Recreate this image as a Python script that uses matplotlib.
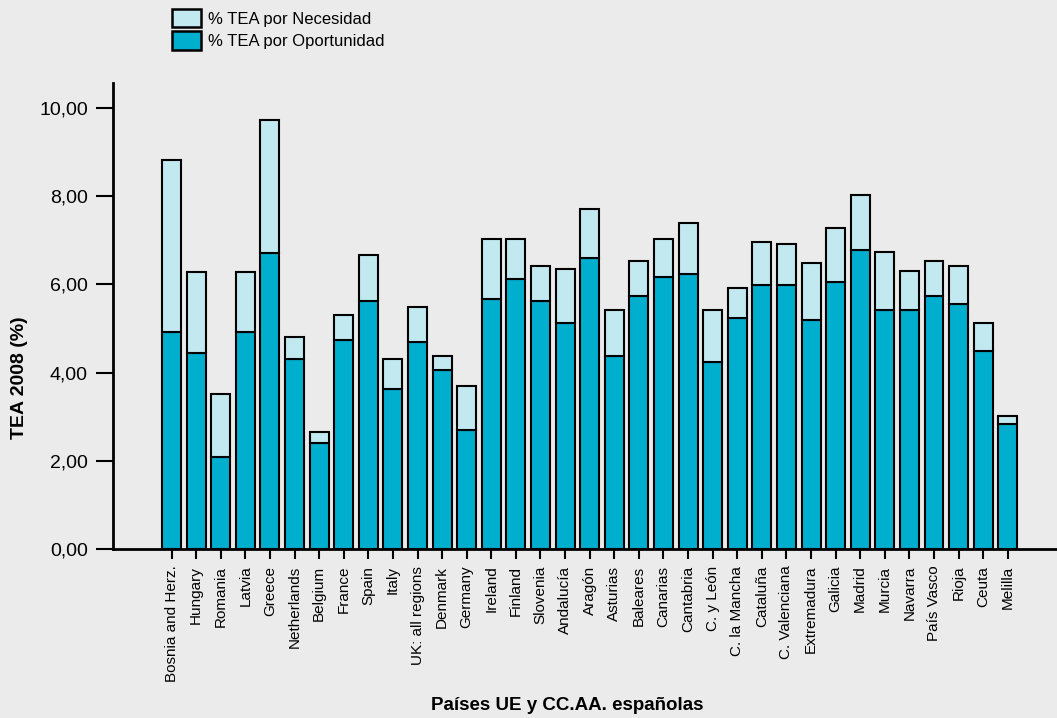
import matplotlib
matplotlib.use('Agg')
import matplotlib.pyplot as plt
import numpy as np
from matplotlib.patches import Patch

plt.rcParams['font.family'] = ['Liberation Sans Narrow', 'Liberation Sans', 'DejaVu Sans']

# ==== datos ====
paises = ['Bosnia and Herz.', 'Hungary', 'Romania', 'Latvia', 'Greece', 'Netherlands',
          'Belgium', 'France', 'Spain', 'Italy', 'UK: all regions', 'Denmark', 'Germany',
          'Ireland', 'Finland', 'Slovenia', 'Andalucía', 'Aragón', 'Asturias', 'Baleares',
          'Canarias', 'Cantabria', 'C. y León', 'C. la Mancha', 'Cataluña', 'C. Valenciana',
          'Extremadura', 'Galicia', 'Madrid', 'Murcia', 'Navarra', 'País Vasco', 'Rioja',
          'Ceuta', 'Melilla']
oportunidad = [4.93, 4.44, 2.09, 4.93, 6.72, 4.32, 2.40, 4.75, 5.62, 3.64, 4.69, 4.07, 2.71,
               5.68, 6.12, 5.62, 5.12, 6.60, 4.38, 5.74, 6.17, 6.23, 4.25, 5.24, 5.98, 5.98,
               5.19, 6.05, 6.79, 5.43, 5.43, 5.73, 5.55, 4.50, 2.83]
total_tea = [8.82, 6.29, 3.51, 6.29, 9.74, 4.81, 2.65, 5.30, 6.67, 4.32, 5.49, 4.38, 3.70,
             7.03, 7.03, 6.41, 6.35, 7.71, 5.43, 6.54, 7.03, 7.40, 5.43, 5.92, 6.97, 6.91,
             6.48, 7.28, 8.02, 6.73, 6.30, 6.54, 6.42, 5.12, 3.02]
necesidad = [t - o for t, o in zip(total_tea, oportunidad)]
yticks = [0, 2, 4, 6, 8, 10]

c_op = '#00AECE'
c_nec = '#C2E8F0'
bg = '#EBEBEB'

fig = plt.figure(figsize=(10.57, 7.18), dpi=100, facecolor=bg)
ax = fig.add_axes([113 / 1057, 169 / 718, 944 / 1057, 466 / 718], facecolor=bg)

x = np.arange(len(paises))
w = 0.77
ax.bar(x, oportunidad, width=w, color=c_op, edgecolor='black', linewidth=1.5, zorder=2)
ax.bar(x, necesidad, width=w, bottom=oportunidad, color=c_nec, edgecolor='black',
       linewidth=1.5, zorder=2)

ax.set_xlim(-2.38, 36.0)
ax.set_ylim(0, 10.57)
ax.set_yticks(yticks)
ax.set_yticklabels([('%.2f' % v).replace('.', ',') for v in yticks])
ax.set_xticks(x)
ax.set_xticklabels(paises, rotation=90, fontsize=11)

for s in ['top', 'right']:
    ax.spines[s].set_visible(False)
for s in ['left', 'bottom']:
    ax.spines[s].set_linewidth(2)
ax.tick_params(axis='y', length=12, width=1.5, labelsize=14, pad=6)
ax.tick_params(axis='x', length=7, width=1.5, pad=5)

fig.text(20 / 1057, 1 - 378 / 718, 'TEA 2008 (%)', fontsize=14, fontweight='bold',
         rotation=90, ha='center', va='center')
fig.text(567 / 1057, 1 - 705 / 718, 'Países UE y CC.AA. españolas', fontsize=13.5,
         fontweight='bold', ha='center', va='center')

handles = [Patch(facecolor=c_nec, edgecolor='black', linewidth=1.8, label='% TEA por Necesidad'),
           Patch(facecolor=c_op, edgecolor='black', linewidth=1.8, label='% TEA por Oportunidad')]
fig.legend(handles=handles, loc='upper left', bbox_to_anchor=(172 / 1057, 1 - 9 / 718),
           frameon=False, fontsize=12, handlelength=1.75, handleheight=1.3,
           labelspacing=0.25, handletextpad=0.4, borderaxespad=0, borderpad=0)

fig.savefig('out.png', dpi=100, facecolor=bg)
